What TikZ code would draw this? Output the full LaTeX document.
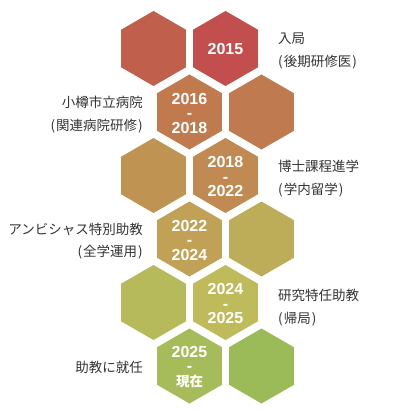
\documentclass[tikz,border=0pt]{standalone}
\usepackage{fontspec}
\newfontfamily\jp{Noto Sans CJK JP}
\newfontfamily\yrfont{Liberation Sans}
\usetikzlibrary{shapes.geometric}
\definecolor{cA}{HTML}{BF5F4C}
\definecolor{cB}{HTML}{C24E4E}
\definecolor{cC}{HTML}{C17A4E}
\definecolor{cD}{HTML}{BF7A4F}
\definecolor{cE}{HTML}{BF9452}
\definecolor{cF}{HTML}{C08A52}
\definecolor{cG}{HTML}{C0A155}
\definecolor{cH}{HTML}{BDAC58}
\definecolor{cI}{HTML}{B6BA5A}
\definecolor{cJ}{HTML}{BFBA5A}
\definecolor{cK}{HTML}{A6BC5A}
\definecolor{cL}{HTML}{9ABB58}
\definecolor{txt}{HTML}{333333}
\newcommand{\lp}{(\kern1pt}
\newcommand{\rp}{\kern1pt)}
\tikzset{
  hex/.style={regular polygon, regular polygon sides=6, shape border rotate=30,
    minimum size=75pt, inner sep=0pt, outer sep=0pt, draw=none},
  yr/.style={text=white, align=center, inner sep=0pt,
    font=\yrfont\bfseries\fontsize{16}{14.5}\selectfont},
  lblR/.style={anchor=west, align=left, text=txt, inner sep=0pt,
    font=\jp\fontsize{13.5}{22.5}\selectfont},
  lblL/.style={anchor=east, align=right, text=txt, inner sep=0pt,
    font=\jp\fontsize{13.5}{22.5}\selectfont}
}
\begin{document}
\begin{tikzpicture}[x=1pt,y=-1pt]
\useasboundingbox (0,0) rectangle (418,412);
% row 1
\node[hex, fill=cA] (h1a) at (153.5,48.5) {};
\node[hex, fill=cB] (h1b) at (225.5,48.5) {};
\node[yr] (y1) at (h1b) {2015};
% row 2
\node[hex, fill=cC] (h2a) at (189.5,112) {};
\node[hex, fill=cD] (h2b) at (261.5,112) {};
\node[yr] (y2) at ([yshift=-1pt]h2a) {2016\\-\\2018};
% row 3
\node[hex, fill=cE] (h3a) at (153.5,175.5) {};
\node[hex, fill=cF] (h3b) at (225.5,175.5) {};
\node[yr] (y3) at ([yshift=-1pt]h3b) {2018\\-\\2022};
% row 4
\node[hex, fill=cG] (h4a) at (189.5,239) {};
\node[hex, fill=cH] (h4b) at (261.5,239) {};
\node[yr] (y4) at ([yshift=-1pt]h4a) {2022\\-\\2024};
% row 5
\node[hex, fill=cI] (h5a) at (153.5,302.5) {};
\node[hex, fill=cJ] (h5b) at (225.5,302.5) {};
\node[yr] (y5) at ([yshift=-1pt]h5b) {2024\\-\\2025};
% row 6
\node[hex, fill=cK] (h6a) at (189.5,366) {};
\node[hex, fill=cL] (h6b) at (261.5,366) {};
\node[yr] (y6) at ([yshift=-1pt]h6a) {2025\\-\\{\jp\bfseries\fontsize{13.5}{14.5}\selectfont 現在}};
% labels
\node[lblR] (l1) at (278,51) {入局\\\lp 後期研修医\rp};
\node[lblL] (l2) at (143,114.5) {小樽市立病院\\\lp 関連病院研修\rp};
\node[lblR] (l3) at (278,178.5) {博士課程進学\\\lp 学内留学\rp};
\node[lblL] (l4) at (143,241) {アンビシャス特別助教\\\lp 全学運用\rp};
\node[lblR] (l5) at (278,307.5) {研究特任助教\\\lp 帰局\rp};
\node[lblL] (l6) at (143,367) {助教に就任};
\end{tikzpicture}
\end{document}
